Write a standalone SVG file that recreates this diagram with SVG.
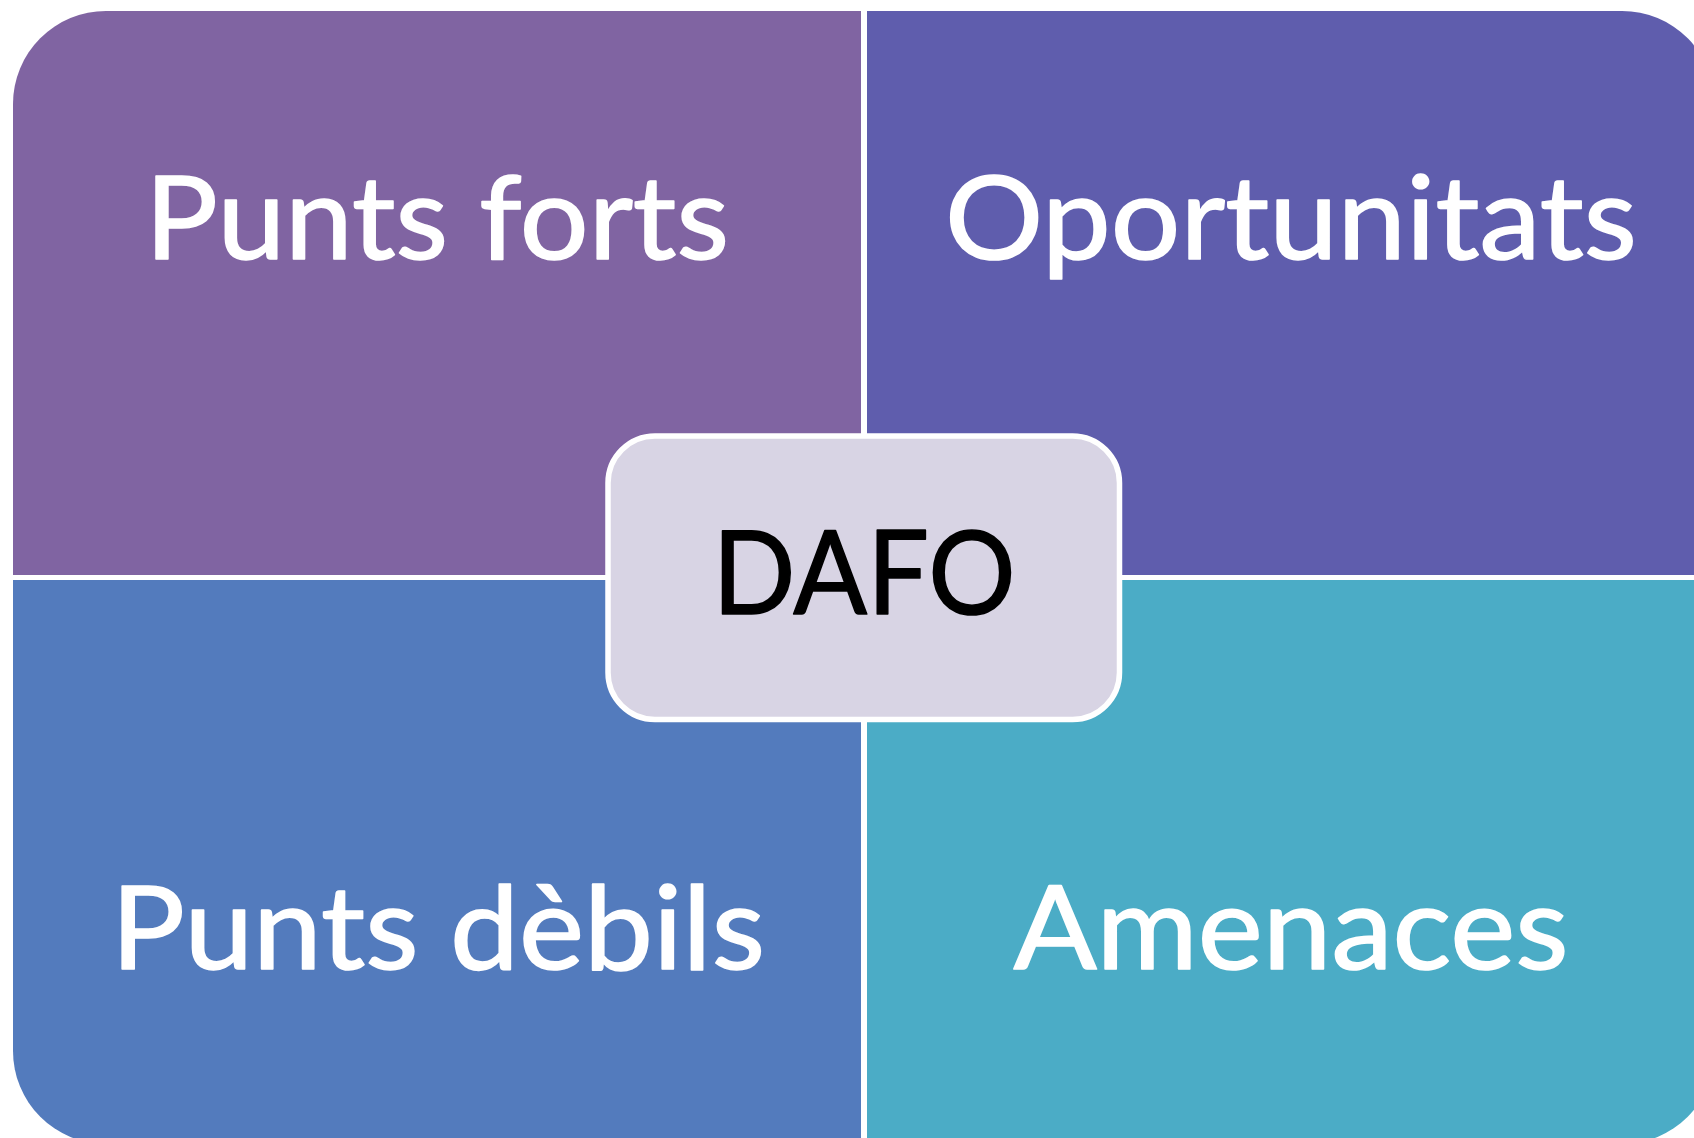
<svg xmlns="http://www.w3.org/2000/svg" width="1694" height="1138" viewBox="0 0 1694 1138">
<style>
.q{stroke:none}
.lbl{font-family:Lato,"Open Sans","Liberation Sans",sans-serif;font-size:117px;text-anchor:middle;stroke-width:1.6;stroke-linejoin:round}
.w{fill:#ffffff;stroke:#ffffff}
.k{fill:#000000;stroke:#000000}
</style>
<rect width="1694" height="1138" fill="#ffffff"/>
<g id="punts-forts">
<path class="q" fill="#8064A2" d="M13,575 V104 A93,93 0 0 1 106,11 H861 V575 Z"/>
<text class="lbl w" x="437" y="259" textLength="584" lengthAdjust="spacingAndGlyphs">Punts forts</text>
</g>
<g id="oportunitats">
<path class="q" fill="#5F5DAD" d="M867,11 H1622 A93,93 0 0 1 1715,104 V575 H867 Z"/>
<text class="lbl w" x="1291" y="259" textLength="692" lengthAdjust="spacingAndGlyphs">Oportunitats</text>
</g>
<g id="punts-debils">
<path class="q" fill="#537BBD" d="M13,580 H861 V1144 H106 A93,93 0 0 1 13,1051 Z"/>
<text class="lbl w" x="438" y="969" textLength="654" lengthAdjust="spacingAndGlyphs">Punts dèbils</text>
</g>
<g id="amenaces">
<path class="q" fill="#4BACC6" d="M867,580 H1715 V1051 A93,93 0 0 1 1622,1144 H867 Z"/>
<text class="lbl w" x="1291" y="969" textLength="555" lengthAdjust="spacingAndGlyphs">Amenaces</text>
</g>
<g id="connectors"></g>
<g id="dafo">
<rect x="608" y="436" width="511.5" height="283.5" rx="47" ry="47" fill="#D8D4E4" stroke="#ffffff" stroke-width="5.5"/>
<text class="lbl k" x="864" y="614" textLength="303" lengthAdjust="spacingAndGlyphs">DAFO</text>
</g>
</svg>
